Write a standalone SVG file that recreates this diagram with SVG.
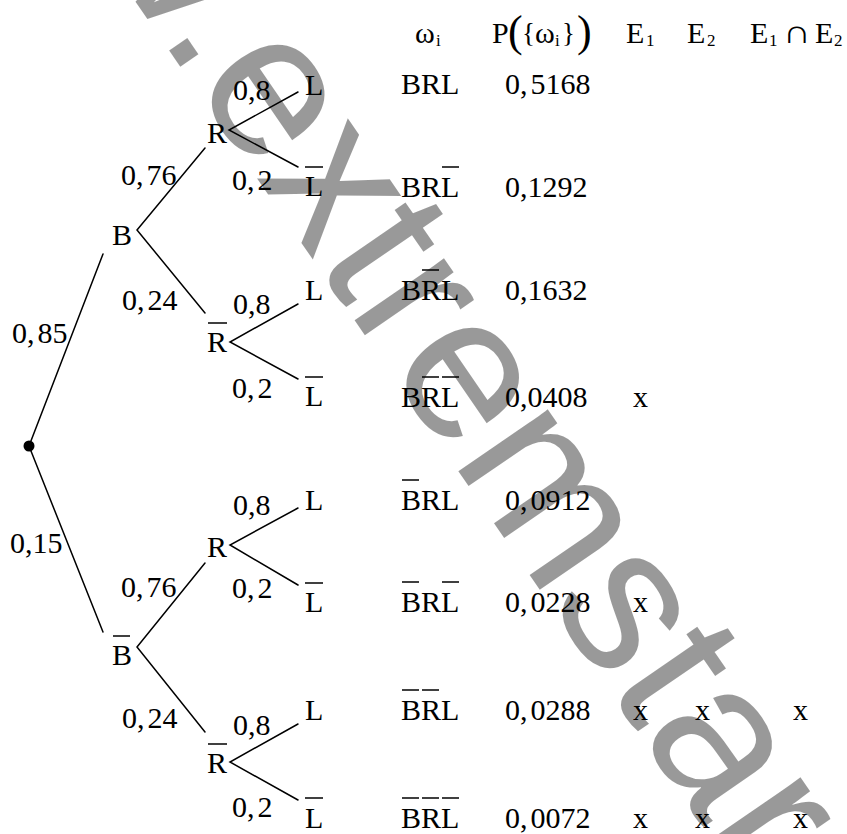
<svg xmlns="http://www.w3.org/2000/svg" width="847" height="834" viewBox="0 0 847 834">
<style>
.t{font-family:"Liberation Serif","Times New Roman",serif;font-size:30px;fill:#000}
.s{font-size:17px}
.big{font-size:44px}
.br{font-size:27px}
.e{stroke:#000;stroke-width:1.5;fill:none;stroke-linecap:round}
.bar{stroke:#000;stroke-width:1.5}
.wm{font-family:"Liberation Sans",Arial,sans-serif;font-size:206px;fill:#000;fill-opacity:0.4}
</style>
<rect width="847" height="834" fill="#fff"/>

<g id="connectors" class="e">
<path d="M29,446 L103,254 M29,446 L103,632"/>
<path d="M205,148 L137,230 L205,313"/>
<path d="M205,563 L137,647 L205,732"/>
<path d="M298,92 L229,130 L298,167"/>
<path d="M298,304 L230,342 L298,379"/>
<path d="M298,508 L230,545 L298,585"/>
<path d="M298,724 L230,762 L298,800"/>
</g>

<g id="edge-labels" class="t">
<text x="12" y="343">0,<tspan dx="3">85</tspan></text>
<text x="10" y="553">0,15</text>
<text x="121" y="185">0,<tspan dx="3">76</tspan></text>
<text x="122" y="310">0,<tspan dx="3">24</tspan></text>
<text x="121" y="597">0,<tspan dx="3">76</tspan></text>
<text x="122" y="728">0,<tspan dx="3">24</tspan></text>
<text x="233" y="100">0,8</text>
<text x="233" y="314">0,8</text>
<text x="233" y="515">0,8</text>
<text x="233" y="735">0,8</text>
<text x="232" y="190">0,<tspan dx="3">2</tspan></text>
<text x="232" y="398">0,<tspan dx="3">2</tspan></text>
<text x="232" y="598">0,<tspan dx="3">2</tspan></text>
<text x="232" y="817">0,<tspan dx="3">2</tspan></text>
</g>

<g id="root"><circle cx="29" cy="446" r="5.5" fill="#000"/></g>
<g id="node-B"><text class="t" x="112" y="245">B</text></g>
<g id="node-Bbar"><text class="t" x="112" y="665">B</text><line class="bar" x1="113" y1="636" x2="130" y2="636"/></g>
<g id="node-R1"><text class="t" x="207" y="143">R</text></g>
<g id="node-Rbar1"><text class="t" x="207" y="352">R</text><line class="bar" x1="208" y1="323" x2="227" y2="323"/></g>
<g id="node-R2"><text class="t" x="207" y="557">R</text></g>
<g id="node-Rbar2"><text class="t" x="207" y="773">R</text><line class="bar" x1="208" y1="744" x2="227" y2="744"/></g>

<g id="leaf-1"><text class="t" x="305" y="95">L</text></g>
<g id="leaf-2"><text class="t" x="305" y="196">L</text><line class="bar" x1="305" y1="167" x2="323" y2="167"/></g>
<g id="leaf-3"><text class="t" x="305" y="300">L</text></g>
<g id="leaf-4"><text class="t" x="305" y="406">L</text><line class="bar" x1="305" y1="377" x2="323" y2="377"/></g>
<g id="leaf-5"><text class="t" x="305" y="510">L</text></g>
<g id="leaf-6"><text class="t" x="305" y="612">L</text><line class="bar" x1="305" y1="583" x2="323" y2="583"/></g>
<g id="leaf-7"><text class="t" x="305" y="720">L</text></g>
<g id="leaf-8"><text class="t" x="305" y="828">L</text><line class="bar" x1="305" y1="798" x2="323" y2="798"/></g>

<g id="header" class="t">
<text x="415" y="43">ω<tspan class="s" x="436" y="46">i</tspan></text>
<text x="492" y="43">P<tspan class="big" x="508" y="46">(</tspan><tspan class="br" x="522" y="42">{</tspan><tspan x="535" y="43">ω</tspan><tspan class="s" x="555" y="46">i</tspan><tspan class="br" x="562" y="42">}</tspan><tspan class="big" x="577" y="46">)</tspan></text>
<text x="626" y="43">E<tspan class="s" x="646" y="46">1</tspan></text>
<text x="687" y="43">E<tspan class="s" x="707" y="46">2</tspan></text>
<text x="750" y="43">E<tspan class="s" x="769" y="46">1</tspan></text>
<text transform="translate(783,43) scale(1.3,1.1)" x="0" y="0">∩</text>
<text x="815" y="43">E<tspan class="s" x="834" y="46">2</tspan></text>
</g>

<g id="row-1" class="t"><text x="401" y="94">BRL</text><text x="505" y="94">0,<tspan dx="3">5168</tspan></text></g>
<g id="row-2" class="t"><text x="401" y="197">BRL</text><line class="bar" x1="442" y1="167" x2="459" y2="167"/><text x="505" y="197">0,1292</text></g>
<g id="row-3" class="t"><text x="401" y="300">BRL</text><line class="bar" x1="422" y1="270" x2="439" y2="270"/><text x="505" y="300">0,1632</text></g>
<g id="row-4" class="t"><text x="401" y="407">BRL</text><line class="bar" x1="422" y1="377" x2="439" y2="377"/><line class="bar" x1="442" y1="377" x2="459" y2="377"/><text x="505" y="407">0,0408</text><text x="633" y="407">x</text></g>
<g id="row-5" class="t"><text x="401" y="510">BRL</text><line class="bar" x1="402" y1="480" x2="419" y2="480"/><text x="505" y="510">0,<tspan dx="3">0912</tspan></text></g>
<g id="row-6" class="t"><text x="401" y="612">BRL</text><line class="bar" x1="402" y1="582" x2="419" y2="582"/><line class="bar" x1="442" y1="582" x2="459" y2="582"/><text x="505" y="612">0,<tspan dx="3">0228</tspan></text><text x="633" y="612">x</text></g>
<g id="row-7" class="t"><text x="401" y="720">BRL</text><line class="bar" x1="402" y1="690" x2="419" y2="690"/><line class="bar" x1="422" y1="690" x2="439" y2="690"/><text x="505" y="720">0,<tspan dx="3">0288</tspan></text><text x="633" y="720">x</text><text x="695" y="720">x</text><text x="793" y="720">x</text></g>
<g id="row-8" class="t"><text x="401" y="828">BRL</text><line class="bar" x1="402" y1="798" x2="419" y2="798"/><line class="bar" x1="422" y1="798" x2="439" y2="798"/><line class="bar" x1="442" y1="798" x2="459" y2="798"/><text x="505" y="828">0,<tspan dx="3">0072</tspan></text><text x="633" y="828">x</text><text x="695" y="828">x</text><text x="793" y="828">x</text></g>

<g id="watermark"><text class="wm" transform="translate(197,91) rotate(55.5)" x="-503" y="0">www.extremstar.com</text></g>
</svg>
